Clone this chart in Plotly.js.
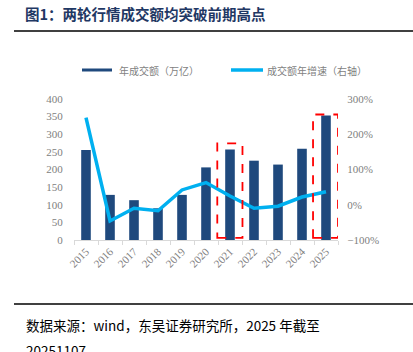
<!DOCTYPE html>
<html>
<head>
<meta charset="utf-8">
<script src="https://cdn.plot.ly/plotly-3.0.1.min.js"></script>
<style>html,body{margin:0;padding:0;background:#fff;}#chart{width:413px;height:352px;}</style>
</head>
<body>
<div id="chart"></div>
<script>
const years = ['2015','2016','2017','2018','2019','2020','2021','2022','2023','2024','2025'];
const turnover = [255, 128, 113, 90, 128, 206, 257, 225, 214, 259, 353];
const growth = [247, -46, -10, -17, 42, 63, 25, -10, -4, 22, 37];
const leftTicks = [0, 50, 100, 150, 200, 250, 300, 350, 400];
const rightTicks = [-100, 0, 100, 200, 300];
const rightTickText = ['−100%', '0%', '100%', '200%', '300%'];
const barName = '年成交额（万亿）';
const lineName = '成交额年增速（右轴）';
const titleText = '图1：两轮行情成交额均突破前期高点';
const sourceText = '数据来源：wind，东吴证券研究所，2025 年截至';
const sourceText2 = '20251107';

const L = 74, R = 338, T = 99, B = 240;
const W = R - L, H = B - T;
const px = v => (v - L) / W;
const py = v => (B - v) / H;

const numFont = {family: 'Liberation Serif', size: 11, color: '#808080'};
const cjk = 'Noto Sans CJK SC';

const traces = [
  {type: 'bar', x: years, y: turnover, name: barName, marker: {color: '#1f497d'}, width: 0.4, showlegend: false},
  {type: 'scatter', mode: 'lines', x: years, y: growth, name: lineName, yaxis: 'y2', line: {color: '#00b0f0', width: 3.5}, showlegend: false}
];

const layout = {
  width: 413, height: 352,
  margin: {l: L, r: 413 - R, t: T, b: 352 - B},
  paper_bgcolor: '#fff', plot_bgcolor: '#fff',
  showlegend: false,
  title: {text: titleText, x: 25 / 413, xanchor: 'left', y: 1 - 15 / 352, yanchor: 'middle',
          font: {family: cjk, size: 14.5, color: '#1f3864', weight: 'bold'}},
  xaxis: {type: 'category', range: [-0.5, 10.5], showline: true, linecolor: '#d9d9d9', linewidth: 1,
          ticks: 'outside', tickson: 'boundaries', ticklen: 4, tickcolor: '#d9d9d9',
          tickangle: -45, tickfont: numFont, showgrid: false, zeroline: false, fixedrange: true},
  yaxis: {range: [0, 400], tickmode: 'array', tickvals: leftTicks, showgrid: false, zeroline: false,
          showline: false, ticks: 'outside', ticklen: 8, tickcolor: 'rgba(0,0,0,0)', tickfont: numFont},
  yaxis2: {overlaying: 'y', side: 'right', range: [-100, 300], tickmode: 'array', tickvals: rightTicks, ticktext: rightTickText,
           showgrid: false, zeroline: false, showline: false, ticks: 'outside', ticklen: 6, tickcolor: 'rgba(0,0,0,0)', tickfont: numFont},
  shapes: [
    {type: 'line', xref: 'paper', yref: 'paper', x0: px(14), x1: px(413), y0: py(31), y1: py(31), line: {color: '#000', width: 1.5}},
    {type: 'line', xref: 'paper', yref: 'paper', x0: px(14), x1: px(413), y0: py(304), y1: py(304), line: {color: '#000', width: 1.5}},
    {type: 'rect', xref: 'paper', yref: 'paper', x0: px(82), x1: px(112), y0: py(71.5), y1: py(68.5), line: {width: 0}, fillcolor: '#1f497d'},
    {type: 'line', xref: 'paper', yref: 'paper', x0: px(231), x1: px(263), y0: py(70), y1: py(70), line: {color: '#00b0f0', width: 3.5}},
    {type: 'rect', xref: 'x', yref: 'y', x0: 5.47, x1: 6.52, y0: 6, y1: 274, line: {color: '#ff0000', width: 1.8, dash: 'dash'}},
    {type: 'rect', xref: 'x', yref: 'y', x0: 9.46, x1: 10.5, y0: 6, y1: 356, line: {color: '#ff0000', width: 1.8, dash: 'dash'}}
  ],
  annotations: [
    {xref: 'paper', yref: 'paper', x: px(117), y: py(70), xanchor: 'left', yanchor: 'middle', showarrow: false,
     text: barName, font: {family: cjk, size: 10, color: '#7f7f7f'}},
    {xref: 'paper', yref: 'paper', x: px(265), y: py(70), xanchor: 'left', yanchor: 'middle', showarrow: false,
     text: lineName, font: {family: cjk, size: 10, color: '#7f7f7f'}},
    {xref: 'paper', yref: 'paper', x: px(24), y: py(325), xanchor: 'left', yanchor: 'middle', showarrow: false,
     text: sourceText, font: {family: cjk, size: 13.5, color: '#000'}},
    {xref: 'paper', yref: 'paper', x: px(24), y: py(350), xanchor: 'left', yanchor: 'middle', showarrow: false,
     text: sourceText2, font: {family: cjk, size: 13.5, color: '#000'}}
  ]
};

Plotly.newPlot('chart', traces, layout, {displayModeBar: false, staticPlot: true});
</script>
</body>
</html>
